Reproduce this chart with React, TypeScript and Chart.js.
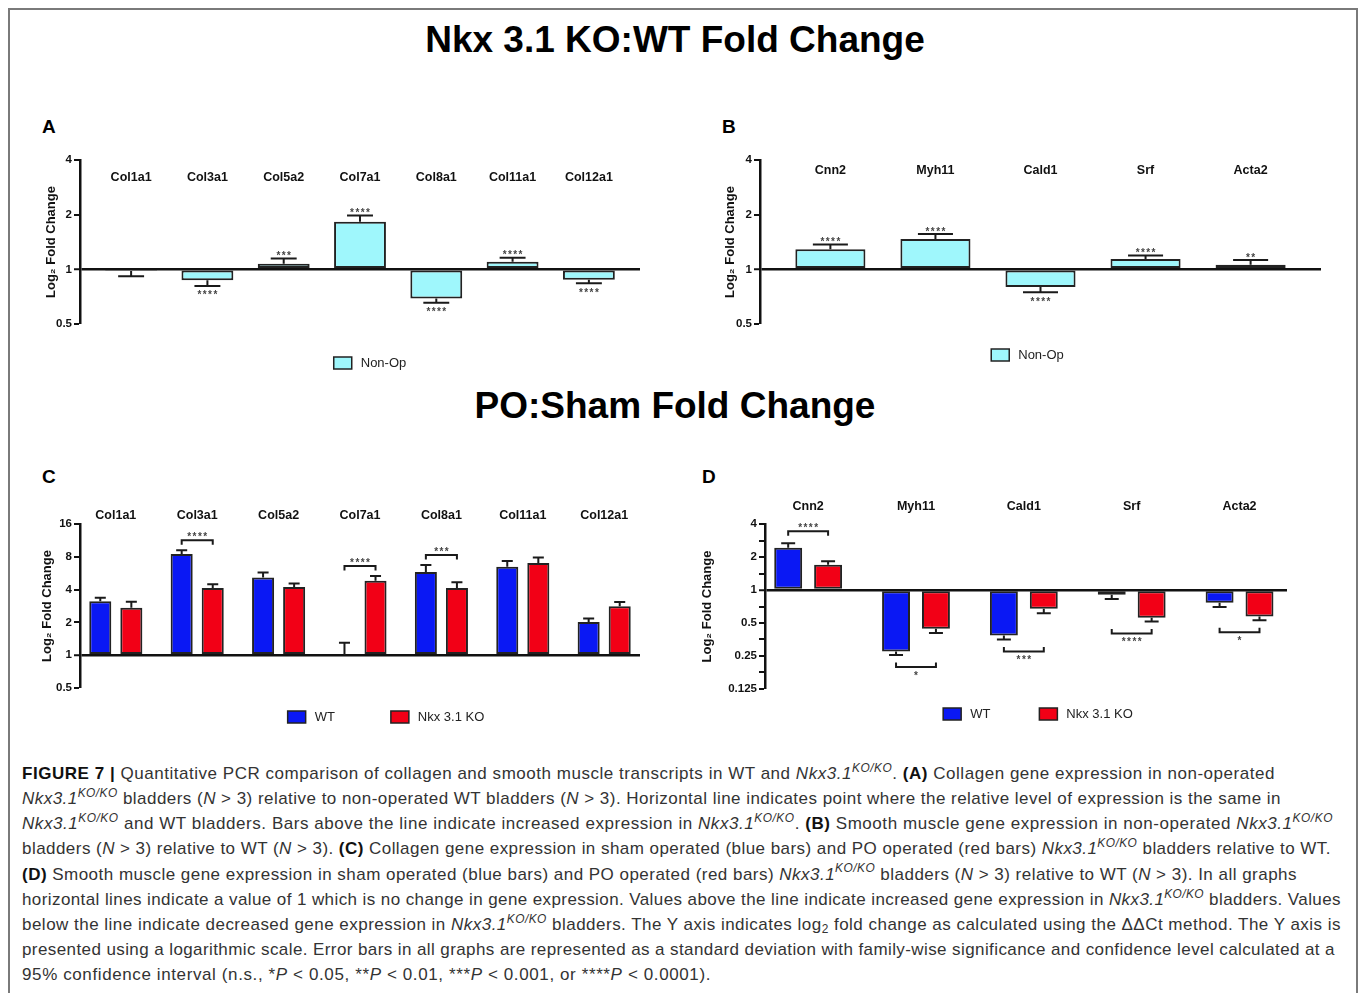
import React, { useEffect, useLayoutEffect, useRef } from "react";
import { Chart, registerables } from "chart.js";

Chart.register(...registerables);
Chart.defaults.font.family = '"Liberation Sans", Arial, Helvetica, sans-serif';

// ---------------- DATA ----------------
// Panel A : collagen genes, non-operated KO:WT
const catsA = ["Col1a1", "Col3a1", "Col5a2", "Col7a1", "Col8a1", "Col11a1", "Col12a1"];
const nonOpA = [0.98, 0.87, 1.075, 1.83, 0.69, 1.1, 0.877];
const nonOpErrTipA = [0.915, 0.81, 1.146, 1.98, 0.655, 1.16, 0.837];
const sigA = ["", "****", "***", "****", "****", "****", "****"];

// Panel B : smooth muscle genes, non-operated KO:WT
const catsB = ["Cnn2", "Myh11", "Cald1", "Srf", "Acta2"];
const nonOpB = [1.29, 1.47, 0.8, 1.14, 1.06];
const nonOpErrTipB = [1.37, 1.565, 0.747, 1.19, 1.126];
const sigB = ["****", "****", "****", "****", "**"];

// Panel C : collagen genes, PO:Sham
const catsC = ["Col1a1", "Col3a1", "Col5a2", "Col7a1", "Col8a1", "Col11a1", "Col12a1"];
const wtC = [3.12, 8.48, 5.17, 1.0, 5.81, 6.5, 2.02];
const wtErrTipC = [3.37, 9.2, 5.74, 1.3, 6.73, 7.33, 2.17];
const koC = [2.73, 4.13, 4.22, 4.81, 4.13, 7.03, 2.81];
const koErrTipC = [3.1, 4.49, 4.55, 5.34, 4.68, 7.9, 3.08];
const sigC = ["", "****", "", "****", "***", "", ""];

// Panel D : smooth muscle genes, PO:Sham
const catsD = ["Cnn2", "Myh11", "Cald1", "Srf", "Acta2"];
const wtD = [2.43, 0.275, 0.384, 0.907, 0.766];
const wtErrTipD = [2.67, 0.255, 0.353, 0.827, 0.698];
const koD = [1.7, 0.442, 0.675, 0.558, 0.574];
const koErrTipD = [1.83, 0.406, 0.615, 0.516, 0.53];
const sigD = ["****", "*", "***", "****", "*"];

// tick labels
const yTicksAB = [0.5, 1, 2, 4];
const yTicksC = [0.5, 1, 2, 4, 8, 16];
const yTicksD = [0.125, 0.25, 0.5, 1, 2, 4];
const yMinorD = [0.177, 0.354, 0.707, 1.414, 2.828];

const seriesNames = { nonOp: "Non-Op", wt: "WT", ko: "Nkx 3.1 KO" };
const COLORS = { cyan: "#9ff7fc", blue: "#0a18f4", red: "#f20016", edge: "#222222" };

// ---------------- PLUGIN ----------------
function drawStars(ctx: CanvasRenderingContext2D, s: string, cx: number, baseline: number) {
  if (!s) return;
  const sp = 5.3;
  const start = cx - ((s.length - 1) * sp) / 2;
  ctx.font = 'bold 10px "Liberation Sans", Arial, sans-serif';
  ctx.fillStyle = "#444";
  ctx.textAlign = "center";
  ctx.textBaseline = "alphabetic";
  for (let i = 0; i < s.length; i++) ctx.fillText("*", start + i * sp, baseline);
}

const annotPlugin = {
  id: "annot",
  afterDatasetsDraw(chart: any, _args: any, opts: any) {
    const ctx: CanvasRenderingContext2D = chart.ctx;
    const xs = chart.scales.x;
    const ys = chart.scales.y;
    const area = chart.chartArea;
    ctx.save();

    // category labels
    ctx.font = 'bold 12.5px "Liberation Sans", Arial, sans-serif';
    ctx.fillStyle = "#111";
    ctx.textAlign = "center";
    ctx.textBaseline = "middle";
    (opts.labels as string[]).forEach((l, i) => ctx.fillText(l, xs.getPixelForValue(i), area.top + opts.labelDy));

    // error bars
    const tips: number[][] = [];
    const xsPx: number[][] = [];
    chart.data.datasets.forEach((ds: any, di: number) => {
      const meta = chart.getDatasetMeta(di);
      tips[di] = [];
      xsPx[di] = [];
      meta.data.forEach((bar: any, j: number) => {
        const p = bar.getProps(["x", "y", "width"], true);
        const ty = ys.getPixelForValue(opts.errTips[di][j]);
        tips[di][j] = ty;
        xsPx[di][j] = p.x;
        ctx.strokeStyle = "#1a1a1a";
        ctx.lineWidth = 2;
        ctx.beginPath();
        ctx.moveTo(p.x, p.y);
        ctx.lineTo(p.x, ty);
        ctx.moveTo(p.x - p.width * 0.25, ty);
        ctx.lineTo(p.x + p.width * 0.25, ty);
        ctx.stroke();
      });
    });

    // significance
    const sig: string[] = opts.sig;
    if (opts.mode === "single") {
      const vals = chart.data.datasets[0].data;
      sig.forEach((s, j) => {
        const v = vals[j].y;
        const ty = tips[0][j];
        if (v >= 1) drawStars(ctx, s, xsPx[0][j], ty + 0.8);
        else drawStars(ctx, s, xsPx[0][j], ty + 12.3);
      });
    } else {
      const v0 = chart.data.datasets[0].data;
      const v1 = chart.data.datasets[1].data;
      sig.forEach((s, j) => {
        if (!s) return;
        const x1 = xsPx[0][j];
        const x2 = xsPx[1][j];
        const up = v0[j].y >= 1 && v1[j].y >= 1;
        ctx.strokeStyle = "#1a1a1a";
        ctx.lineWidth = 2;
        ctx.beginPath();
        if (up) {
          const by = Math.min(tips[0][j], tips[1][j]) - opts.bracketGap;
          ctx.moveTo(x1, by + 4.5);
          ctx.lineTo(x1, by);
          ctx.lineTo(x2, by);
          ctx.lineTo(x2, by + 4.5);
          ctx.stroke();
          drawStars(ctx, s, (x1 + x2) / 2, by - 0.2);
        } else {
          const by = Math.max(tips[0][j], tips[1][j]) + opts.bracketGap;
          ctx.moveTo(x1, by - 4.5);
          ctx.lineTo(x1, by);
          ctx.lineTo(x2, by);
          ctx.lineTo(x2, by - 4.5);
          ctx.stroke();
          drawStars(ctx, s, (x1 + x2) / 2, by + 11.8);
        }
      });
    }
    ctx.restore();
  },
  afterDraw(chart: any, _args: any, opts: any) {
    const ctx: CanvasRenderingContext2D = chart.ctx;
    const area = chart.chartArea;
    ctx.save();
    ctx.font = '13px "Liberation Sans", Arial, sans-serif';
    const items = chart.data.datasets.map((d: any) => ({
      label: d.label as string,
      color: d.backgroundColor as string,
      w: 18 + 9 + ctx.measureText(d.label).width,
    }));
    const total = items.reduce((a: number, it: any) => a + it.w, 0) + opts.legendGap * (items.length - 1);
    let x = (area.left + area.right) / 2 + opts.legendDx - total / 2;
    const y = area.bottom + opts.legendDy;
    items.forEach((it: any) => {
      ctx.fillStyle = it.color;
      ctx.fillRect(x, y - 6, 18, 12);
      ctx.strokeStyle = "#222";
      ctx.lineWidth = 1.5;
      ctx.strokeRect(x, y - 6, 18, 12);
      ctx.fillStyle = "#222";
      ctx.textAlign = "left";
      ctx.textBaseline = "middle";
      ctx.fillText(it.label, x + 27, y + 0.5);
      x += it.w + opts.legendGap;
    });
    ctx.restore();
  },
};

// ---------------- CONFIG ----------------
type Spec = {
  cats: string[];
  series: { label: string; values: number[]; tips: number[]; color: string }[];
  sig: string[];
  mode: "single" | "pair";
  yMin: number;
  yMax: number;
  yMajor: number[];
  yMinor: number[];
  xMin: number;
  xMax: number;
  catPct: number;
  barPct: number;
  yWidth: number;
  titlePad: number;
  pad: { left: number; top: number; right: number; bottom: number };
  labelDy: number;
  legendDx: number;
  legendDy: number;
  legendGap: number;
  bracketGap: number;
};

function makeConfig(s: Spec): any {
  const allTicks = [...s.yMajor, ...s.yMinor].sort((a, b) => a - b);
  return {
    type: "bar",
    data: {
      datasets: s.series.map((se) => ({
        label: se.label,
        data: se.values.map((v, i) => ({ x: i, y: v })),
        base: 1,
        backgroundColor: se.color,
        borderColor: COLORS.edge,
        borderWidth: 2,
        borderSkipped: false,
        categoryPercentage: s.catPct,
        barPercentage: s.barPct,
      })),
    },
    options: {
      animation: false,
      responsive: false,
      events: [],
      layout: { padding: s.pad },
      scales: {
        x: {
          type: "linear",
          display: false,
          offset: false,
          min: s.xMin,
          max: s.xMax,
          afterBuildTicks: (sc: any) => {
            sc.ticks = s.cats.map((_, i) => ({ value: i }));
          },
        },
        y: {
          type: "logarithmic",
          position: "left",
          min: s.yMin,
          max: s.yMax,
          afterBuildTicks: (sc: any) => {
            sc.ticks = allTicks.map((v) => ({ value: v }));
          },
          afterFit: (sc: any) => {
            sc.width = s.yWidth;
          },
          border: { display: true, color: "#111", width: 2.5 },
          grid: {
            drawOnChartArea: true,
            drawTicks: true,
            color: (c: any) => (c.tick && c.tick.value === 1 ? "#111" : "rgba(0,0,0,0)"),
            lineWidth: (c: any) => (c.tick && c.tick.value === 1 ? 2.5 : 0),
            tickColor: "#111",
            tickWidth: 2,
            tickLength: 6,
          },
          ticks: {
            autoSkip: false,
            padding: 2,
            color: "#111",
            font: { size: 11.5, weight: "bold" },
            callback: (v: any) => (s.yMajor.includes(Number(v)) ? String(v) : ""),
          },
          title: {
            display: true,
            text: "Log\u2082 Fold Change",
            color: "#111",
            font: { size: 13, weight: "bold" },
            padding: { top: s.titlePad, bottom: 0 },
          },
        },
      },
      plugins: {
        legend: { display: false },
        tooltip: { enabled: false },
        annot: {
          labels: s.cats,
          errTips: s.series.map((se) => se.tips),
          sig: s.sig,
          mode: s.mode,
          labelDy: s.labelDy,
          legendDx: s.legendDx,
          legendDy: s.legendDy,
          legendGap: s.legendGap,
          bracketGap: s.bracketGap,
        },
      },
    },
    plugins: [annotPlugin],
  };
}

const specA: Spec = {
  cats: catsA,
  series: [{ label: seriesNames.nonOp, values: nonOpA, tips: nonOpErrTipA, color: COLORS.cyan }],
  sig: sigA,
  mode: "single",
  yMin: 0.5, yMax: 4, yMajor: yTicksAB, yMinor: [],
  xMin: -0.67, xMax: 6.67, catPct: 1, barPct: 0.68,
  yWidth: 60, titlePad: 24,
  pad: { left: 0, top: 20, right: 30, bottom: 66 },
  labelDy: 18, legendDx: 10, legendDy: 39, legendGap: 50, bracketGap: 10,
};
const specB: Spec = {
  cats: catsB,
  series: [{ label: seriesNames.nonOp, values: nonOpB, tips: nonOpErrTipB, color: COLORS.cyan }],
  sig: sigB,
  mode: "single",
  yMin: 0.5, yMax: 4, yMajor: yTicksAB, yMinor: [],
  xMin: -0.67, xMax: 4.67, catPct: 1, barPct: 0.667,
  yWidth: 70, titlePad: 33,
  pad: { left: 0, top: 20, right: 19, bottom: 66 },
  labelDy: 11, legendDx: -13, legendDy: 31, legendGap: 50, bracketGap: 10,
};
const specC: Spec = {
  cats: catsC,
  series: [
    { label: seriesNames.wt, values: wtC, tips: wtErrTipC, color: COLORS.blue },
    { label: seriesNames.ko, values: koC, tips: koErrTipC, color: COLORS.red },
  ],
  sig: sigC,
  mode: "pair",
  yMin: 0.5, yMax: 16, yMajor: yTicksC, yMinor: [],
  xMin: -0.44, xMax: 6.44, catPct: 0.763, barPct: 0.71,
  yWidth: 60, titlePad: 20,
  pad: { left: 0, top: 34, right: 30, bottom: 52 },
  labelDy: -8, legendDx: 26, legendDy: 29, legendGap: 56, bracketGap: 10,
};
const specD: Spec = {
  cats: catsD,
  series: [
    { label: seriesNames.wt, values: wtD, tips: wtErrTipD, color: COLORS.blue },
    { label: seriesNames.ko, values: koD, tips: koErrTipD, color: COLORS.red },
  ],
  sig: sigD,
  mode: "pair",
  yMin: 0.125, yMax: 4, yMajor: yTicksD, yMinor: yMinorD,
  xMin: -0.4, xMax: 4.44, catPct: 0.74, barPct: 0.7,
  yWidth: 75, titlePad: 10,
  pad: { left: 0, top: 34, right: 53, bottom: 51 },
  labelDy: -17, legendDx: 12, legendDy: 25, legendGap: 49, bracketGap: 12,
};

function Panel({ spec, left, top, width, height }: { spec: Spec; left: number; top: number; width: number; height: number }) {
  const ref = useRef<HTMLCanvasElement>(null);
  useEffect(() => {
    const chart = new Chart(ref.current as HTMLCanvasElement, makeConfig(spec));
    return () => chart.destroy();
  }, [spec]);
  return (
    <canvas
      ref={ref}
      width={width}
      height={height}
      style={{ position: "absolute", left, top, width, height, display: "block" }}
    />
  );
}

// ---------------- CAPTION ----------------
const supStyle: React.CSSProperties = {
  fontSize: "0.7em",
  position: "relative",
  top: "-0.6em",
  verticalAlign: "baseline",
  lineHeight: 0,
};
const KO = () => (
  <>
    <i>Nkx3.1</i>
    <span style={supStyle}>
      <i>KO/KO</i>
    </span>
  </>
);
const N = () => <i>N</i>;
const P = () => <i>P</i>;
const B = ({ children }: { children: React.ReactNode }) => <b style={{ color: "#111" }}>{children}</b>;

const captionLines: React.ReactNode[] = [
  <>
    <B>FIGURE 7 |</B> Quantitative PCR comparison of collagen and smooth muscle transcripts in WT and <KO />. <B>(A)</B> Collagen gene expression in non-operated
  </>,
  <>
    <KO /> bladders (<N /> &gt; 3) relative to non-operated WT bladders (<N /> &gt; 3). Horizontal line indicates point where the relative level of expression is the same in
  </>,
  <>
    <KO /> and WT bladders. Bars above the line indicate increased expression in <KO />. <B>(B)</B> Smooth muscle gene expression in non-operated <KO />
  </>,
  <>
    bladders (<N /> &gt; 3) relative to WT (<N /> &gt; 3). <B>(C)</B> Collagen gene expression in sham operated (blue bars) and PO operated (red bars) <KO /> bladders relative to WT.
  </>,
  <>
    <B>(D)</B> Smooth muscle gene expression in sham operated (blue bars) and PO operated (red bars) <KO /> bladders (<N /> &gt; 3) relative to WT (<N /> &gt; 3). In all graphs
  </>,
  <>
    horizontal lines indicate a value of 1 which is no change in gene expression. Values above the line indicate increased gene expression in <KO /> bladders. Values
  </>,
  <>
    below the line indicate decreased gene expression in <KO /> bladders. The Y axis indicates log
    <span style={{ fontSize: "0.7em", position: "relative", top: "0.25em", lineHeight: 0 }}>2</span> fold change as calculated using the ΔΔCt method. The Y axis is
  </>,
  <>
    presented using a logarithmic scale. Error bars in all graphs are represented as a standard deviation with family-wise significance and confidence level calculated at a
  </>,
  <>
    95% confidence interval (n.s., *<P /> &lt; 0.05, **<P /> &lt; 0.01, ***<P /> &lt; 0.001, or ****<P /> &lt; 0.0001).
  </>,
];
const captionWidths = [1253, 1259, 1311, 1309, 1275, 1319, 1319, 1313, 689];

function Caption() {
  const refs = useRef<(HTMLDivElement | null)[]>([]);
  useLayoutEffect(() => {
    refs.current.forEach((el, i) => {
      if (!el) return;
      el.style.letterSpacing = "0px";
      const w = el.getBoundingClientRect().width;
      const n = (el.textContent || "").length;
      el.style.letterSpacing = (captionWidths[i] - w) / n + "px";
    });
  }, []);
  const fs = 17;
  return (
    <>
      {captionLines.map((ln, i) => (
        <div
          key={i}
          ref={(el) => {
            refs.current[i] = el;
          }}
          style={{
            position: "absolute",
            left: 22,
            top: 779.3 + i * 25.15 - 0.8465 * fs,
            fontSize: fs,
            lineHeight: fs + "px",
            whiteSpace: "nowrap",
            color: "#333",
          }}
        >
          {ln}
        </div>
      ))}
    </>
  );
}

// ---------------- APP ----------------
const titleStyle = (baseline: number): React.CSSProperties => ({
  position: "absolute",
  left: 0,
  width: 1350,
  top: baseline - 0.8465 * 37,
  textAlign: "center",
  fontSize: 37,
  lineHeight: "37px",
  fontWeight: "bold",
  color: "#000",
  whiteSpace: "nowrap",
});
const letterStyle = (left: number, baseline: number): React.CSSProperties => ({
  position: "absolute",
  left,
  top: baseline - 0.8465 * 19,
  fontSize: 19,
  lineHeight: "19px",
  fontWeight: "bold",
  color: "#000",
});

export default function App() {
  return (
    <div
      style={{
        position: "fixed",
        left: 0,
        top: 0,
        width: 1360,
        height: 993,
        overflow: "hidden",
        background: "#fff",
        fontFamily: '"Liberation Sans", Arial, Helvetica, sans-serif',
      }}
    >
      <div
        style={{
          position: "absolute",
          left: 8,
          top: 8,
          width: 1350,
          height: 1010,
          border: "2px solid #7a7a7a",
          boxSizing: "border-box",
        }}
      />
      <div style={titleStyle(52)}>Nkx 3.1 KO:WT Fold Change</div>
      <div style={titleStyle(418)}>PO:Sham Fold Change</div>
      <div style={letterStyle(42, 133.3)}>A</div>
      <div style={letterStyle(722, 133.3)}>B</div>
      <div style={letterStyle(42, 483)}>C</div>
      <div style={letterStyle(702, 483)}>D</div>
      <Panel spec={specA} left={20} top={140} width={650} height={250} />
      <Panel spec={specB} left={690} top={140} width={650} height={250} />
      <Panel spec={specC} left={20} top={490} width={650} height={250} />
      <Panel spec={specD} left={690} top={490} width={650} height={250} />
      <Caption />
    </div>
  );
}
